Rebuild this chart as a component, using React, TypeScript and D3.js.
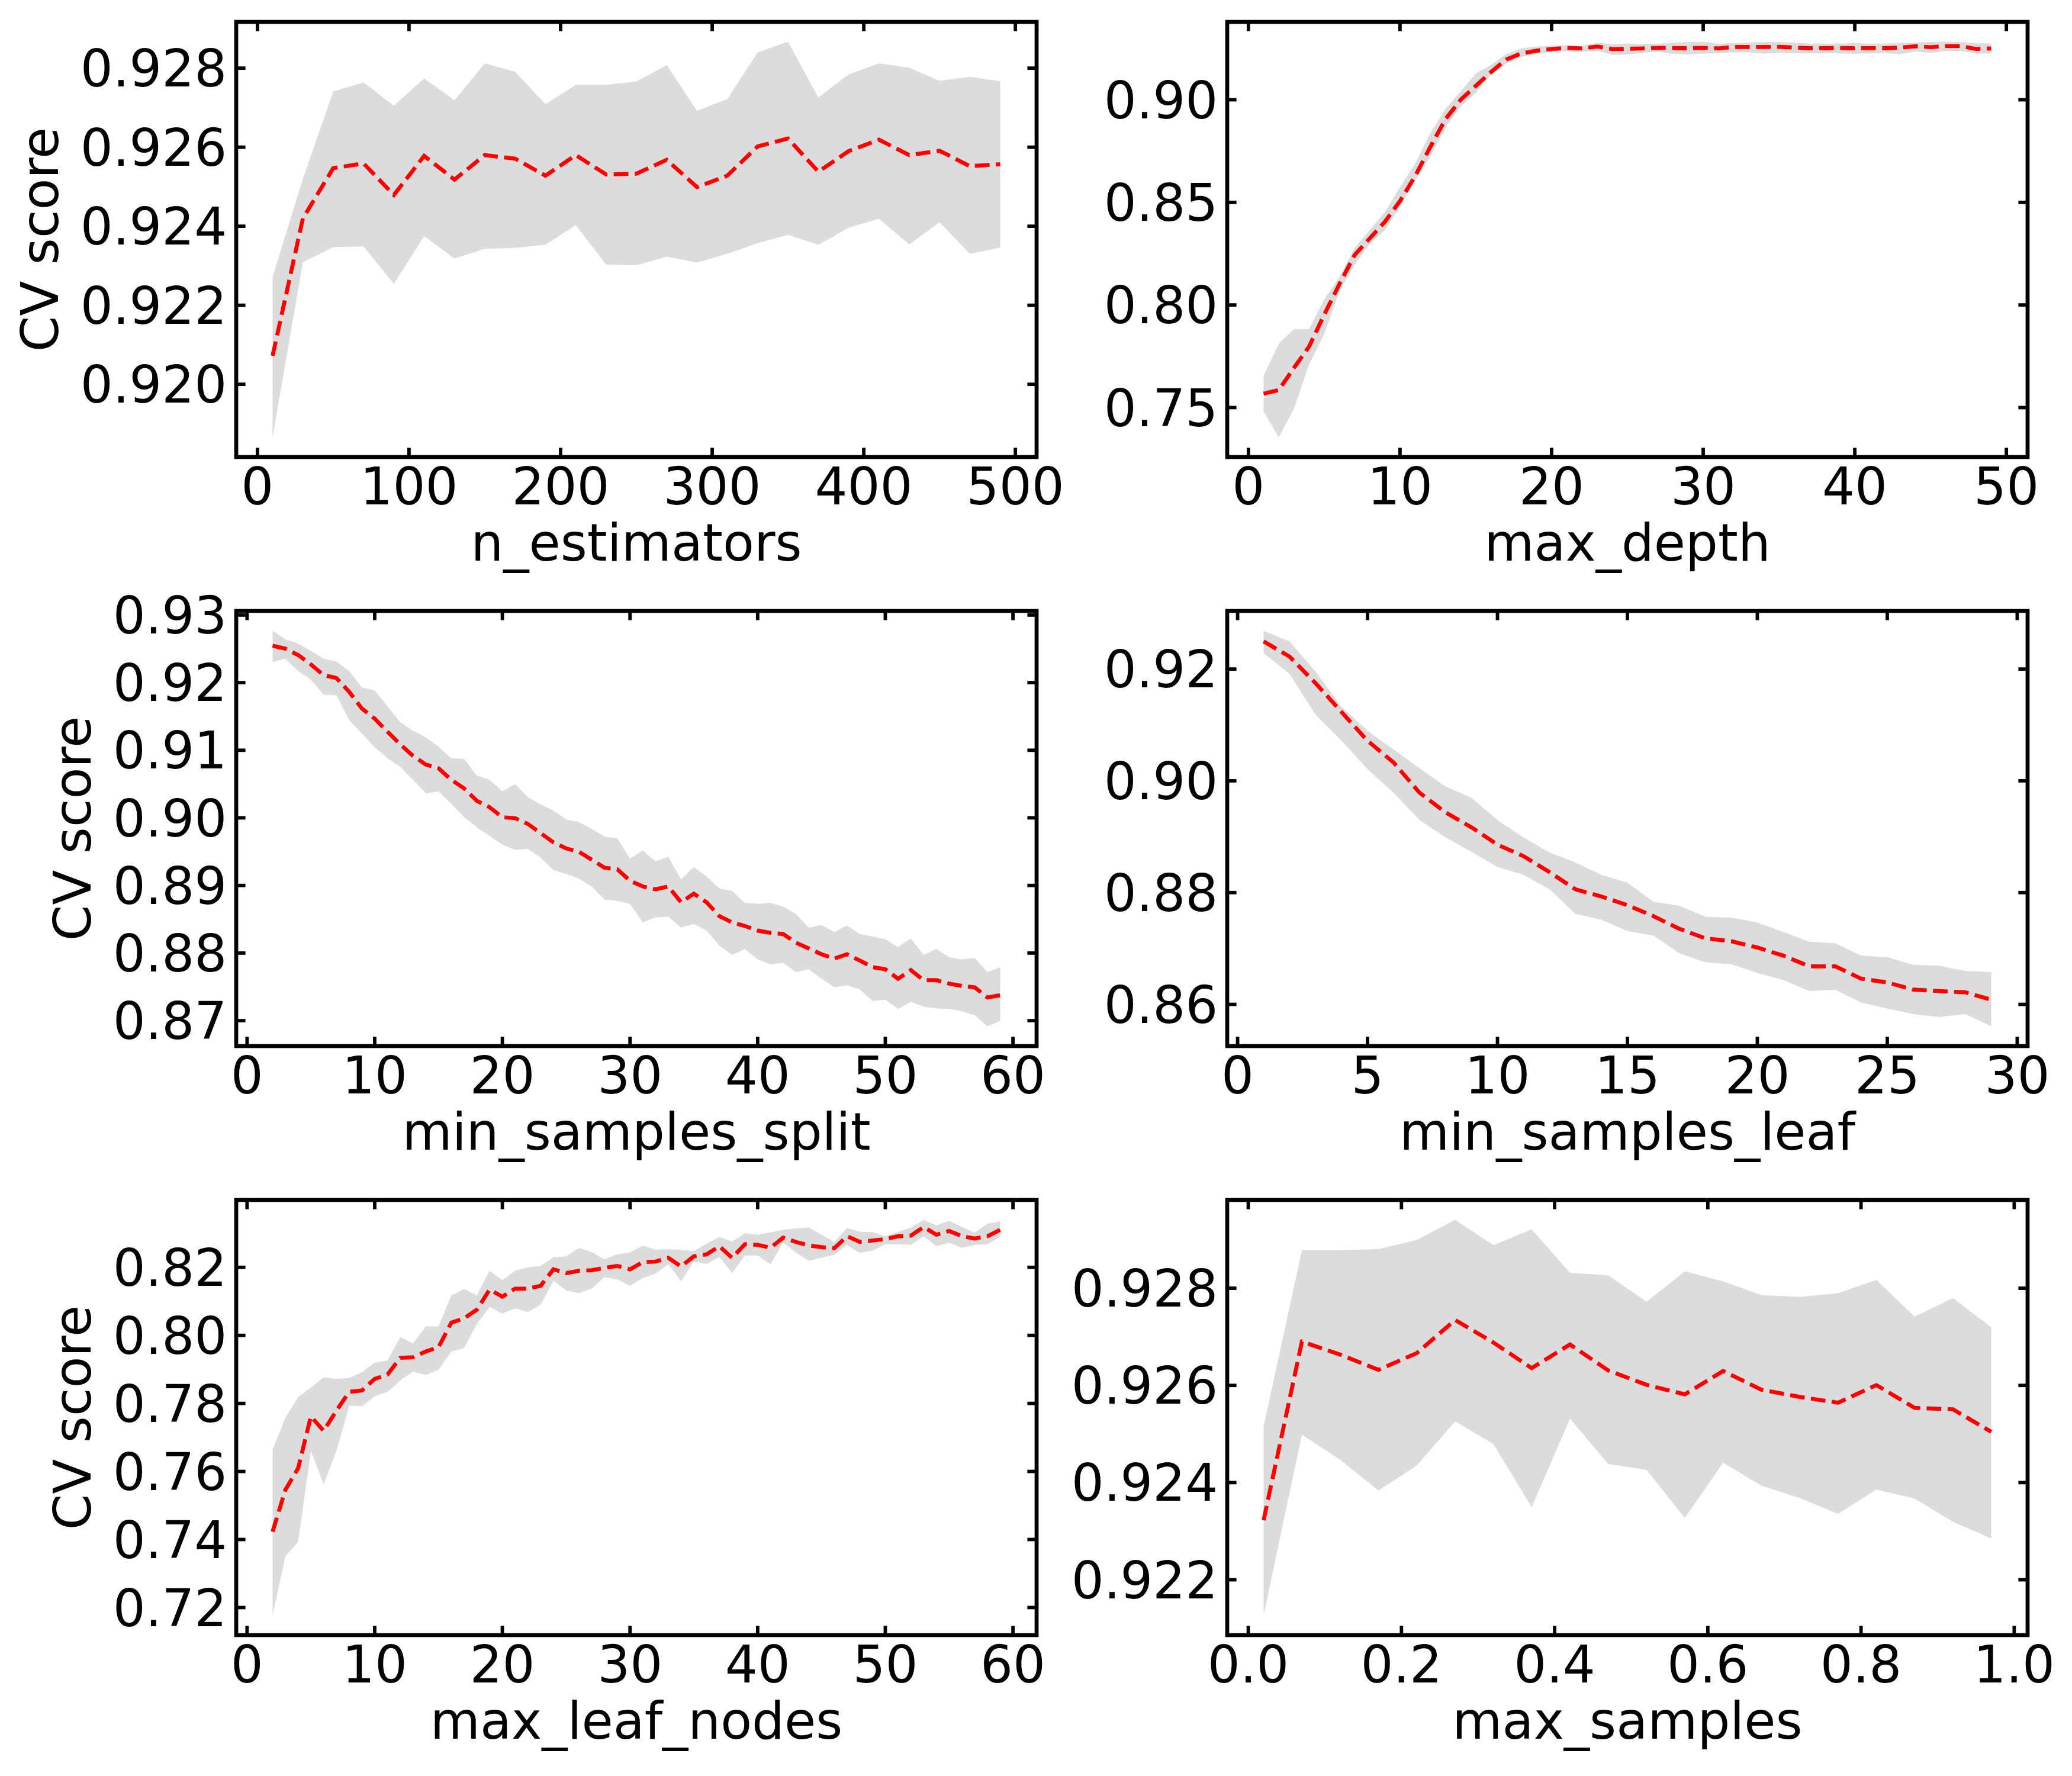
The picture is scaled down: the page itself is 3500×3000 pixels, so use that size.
import React from 'react'
import * as d3 from 'd3'

// n_estimators
const nEstX = [10, 30, 50, 70, 90, 110, 130, 150, 170, 190, 210, 230, 250, 270, 290, 310, 330, 350, 370, 390, 410, 430, 450, 470, 490]
const nEstMean = [0.92072, 0.92420, 0.92547, 0.92559, 0.92479, 0.92578, 0.92518, 0.92580, 0.92571, 0.92528, 0.92580, 0.92531, 0.92533, 0.92568, 0.92499, 0.92528, 0.92602, 0.92622, 0.92538, 0.92590, 0.92619, 0.92580, 0.92591, 0.92552, 0.92557]
const nEstHi = [0.92272, 0.92520, 0.92741, 0.92764, 0.92705, 0.92774, 0.92719, 0.92812, 0.92791, 0.92709, 0.92758, 0.92758, 0.92766, 0.92808, 0.92692, 0.92722, 0.92840, 0.92867, 0.92726, 0.92784, 0.92812, 0.92801, 0.92768, 0.92778, 0.92767]
const nEstLo = [0.91866, 0.92309, 0.92347, 0.92349, 0.92254, 0.92375, 0.92318, 0.92343, 0.92345, 0.92353, 0.92403, 0.92303, 0.92301, 0.92323, 0.92308, 0.92330, 0.92357, 0.92378, 0.92353, 0.92396, 0.92419, 0.92354, 0.92410, 0.92330, 0.92346]

// max_depth
const depthX = [1, 2, 3, 4, 5, 6, 7, 8, 9, 10, 11, 12, 13, 14, 15, 16, 17, 18, 19, 20, 21, 22, 23, 24, 25, 26, 27, 28, 29, 30, 31, 32, 33, 34, 35, 36, 37, 38, 39, 40, 41, 42, 43, 44, 45, 46, 47, 48, 49]
const depthMean = [0.75676, 0.75851, 0.76932, 0.77973, 0.79527, 0.81014, 0.82432, 0.83243, 0.84054, 0.85068, 0.86284, 0.87703, 0.89054, 0.90000, 0.90676, 0.91351, 0.91959, 0.92257, 0.92392, 0.92473, 0.92527, 0.92500, 0.92595, 0.92473, 0.92480,
  0.92503, 0.92532, 0.92522, 0.92513, 0.92532, 0.92503, 0.92570, 0.92570, 0.92570, 0.92580, 0.92541, 0.92513, 0.92513, 0.92522, 0.92513, 0.92513, 0.92513, 0.92541, 0.92609, 0.92561, 0.92618, 0.92618, 0.92474, 0.92503]
const depthHi = [0.76554, 0.78108, 0.78824, 0.78824, 0.80270, 0.81351, 0.82770, 0.83649, 0.84527, 0.85743, 0.86892, 0.88378, 0.89554, 0.90405, 0.91284, 0.91689, 0.92230, 0.92500, 0.92595, 0.92635, 0.92662, 0.92635, 0.92770, 0.92703, 0.92734,
  0.92715, 0.92734, 0.92792, 0.92811, 0.92830, 0.92734, 0.92763, 0.92792, 0.92811, 0.92811, 0.92792, 0.92744, 0.92734, 0.92744, 0.92763, 0.92734, 0.92744, 0.92772, 0.92792, 0.92811, 0.92830, 0.92811, 0.92763, 0.92734]
const depthLo = [0.74797, 0.73554, 0.74932, 0.77095, 0.78581, 0.80676, 0.81959, 0.82973, 0.83649, 0.84797, 0.86081, 0.87230, 0.88649, 0.89662, 0.90338, 0.91216, 0.91757, 0.92095, 0.92230, 0.92338, 0.92365, 0.92338, 0.92392, 0.92185, 0.92200,
  0.92281, 0.92349, 0.92233, 0.92204, 0.92253, 0.92272, 0.92310, 0.92310, 0.92253, 0.92281, 0.92272, 0.92262, 0.92262, 0.92262, 0.92233, 0.92262, 0.92281, 0.92214, 0.92349, 0.92281, 0.92378, 0.92378, 0.92253, 0.92253]

// min_samples_split
const splitX = [2, 3, 4, 5, 6, 7, 8, 9, 10, 11, 12, 13, 14, 15, 16, 17, 18, 19, 20, 21, 22, 23, 24, 25, 26, 27, 28, 29, 30, 31, 32, 33, 34, 35, 36, 37, 38, 39, 40, 41, 42, 43, 44, 45, 46, 47, 48, 49, 50, 51, 52, 53, 54, 55, 56, 57, 58, 59]
const splitMean = [0.92546, 0.92503, 0.92409, 0.92269, 0.92111, 0.92068, 0.91864, 0.91616, 0.91467, 0.91275, 0.91087, 0.90917, 0.90789, 0.90733, 0.90563, 0.90435, 0.90252, 0.90158, 0.90009, 0.89996,
  0.89910, 0.89774, 0.89638, 0.89548, 0.89497, 0.89382, 0.89262, 0.89241, 0.89070, 0.88985, 0.88942, 0.88985, 0.88751, 0.88879, 0.88751, 0.88546, 0.88452, 0.88401, 0.88333, 0.88299,
  0.88281, 0.88153, 0.88068, 0.87983, 0.87919, 0.87983, 0.87889, 0.87791, 0.87761, 0.87620, 0.87748, 0.87599, 0.87599, 0.87548, 0.87514, 0.87493, 0.87343, 0.87377]
const splitHi = [0.92768, 0.92640, 0.92580, 0.92469, 0.92354, 0.92311, 0.92171, 0.91928, 0.91885, 0.91650, 0.91416, 0.91288, 0.91190, 0.91053, 0.90883, 0.90874, 0.90627, 0.90563, 0.90392, 0.90499,
  0.90307, 0.90200, 0.90107, 0.89979, 0.89936, 0.89838, 0.89723, 0.89697, 0.89399, 0.89518, 0.89356, 0.89424, 0.89092, 0.89271, 0.89134, 0.88955, 0.88921, 0.88742, 0.88729, 0.88742,
  0.88687, 0.88580, 0.88375, 0.88418, 0.88311, 0.88409, 0.88281, 0.88247, 0.88205, 0.88090, 0.88217, 0.87974, 0.88060, 0.87940, 0.87906, 0.87927, 0.87719, 0.87791]
const splitLo = [0.92303, 0.92354, 0.92171, 0.92043, 0.91821, 0.91812, 0.91446, 0.91245, 0.91045, 0.90883, 0.90755, 0.90563, 0.90362, 0.90392, 0.90209, 0.90009, 0.89859, 0.89731, 0.89603, 0.89527,
  0.89539, 0.89412, 0.89228, 0.89168, 0.89100, 0.88985, 0.88793, 0.88772, 0.88729, 0.88452, 0.88529, 0.88537, 0.88375, 0.88431, 0.88333, 0.88111, 0.87974, 0.88060, 0.87906, 0.87834,
  0.87855, 0.87719, 0.87761, 0.87620, 0.87493, 0.87522, 0.87463, 0.87292, 0.87309, 0.87173, 0.87279, 0.87207, 0.87181, 0.87173, 0.87139, 0.87079, 0.86917, 0.86994]

// min_samples_leaf
const leafX = [1, 2, 3, 4, 5, 6, 7, 8, 9, 10, 11, 12, 13, 14, 15, 16, 17, 18, 19, 20, 21, 22, 23, 24, 25, 26, 27, 28, 29]
const leafMean = [0.92495, 0.92222, 0.91747, 0.91231, 0.90716, 0.90329, 0.89787, 0.89436, 0.89168, 0.88858, 0.88652, 0.88368, 0.88059, 0.87930, 0.87775,
  0.87579, 0.87352, 0.87182, 0.87130, 0.87017, 0.86872, 0.86681, 0.86681, 0.86460, 0.86393, 0.86264, 0.86238, 0.86217, 0.86083]
const leafHi = [0.92686, 0.92495, 0.91954, 0.91324, 0.90896, 0.90561, 0.90225, 0.89900, 0.89694, 0.89297, 0.88987, 0.88719, 0.88539, 0.88317, 0.88177,
  0.87837, 0.87765, 0.87569, 0.87553, 0.87466, 0.87295, 0.87120, 0.87094, 0.86872, 0.86847, 0.86707, 0.86692, 0.86599, 0.86578]
const leafLo = [0.92289, 0.91912, 0.91180, 0.90716, 0.90210, 0.89787, 0.89297, 0.88987, 0.88729, 0.88461, 0.88317, 0.88059, 0.87620, 0.87517, 0.87311,
  0.87233, 0.86914, 0.86754, 0.86718, 0.86563, 0.86434, 0.86238, 0.86264, 0.86031, 0.85928, 0.85825, 0.85773, 0.85825, 0.85608]

// max_leaf_nodes
const nodesX = splitX
const nodesMean = [0.74229, 0.75458, 0.76093, 0.77619, 0.77195, 0.77788, 0.78339, 0.78381, 0.78720, 0.78847, 0.79339, 0.79356, 0.79525, 0.79653, 0.80373, 0.80500, 0.80754, 0.81347, 0.81136, 0.81373,
  0.81373, 0.81458, 0.81941, 0.81831, 0.81898, 0.81915, 0.81983, 0.82042, 0.81941, 0.82153, 0.82169, 0.82280, 0.82025, 0.82322, 0.82381, 0.82619, 0.82280, 0.82678, 0.82661, 0.82576,
  0.82873, 0.82746, 0.82644, 0.82593, 0.82559, 0.82915, 0.82746, 0.82788, 0.82831, 0.82915, 0.82932, 0.83186, 0.82958, 0.83068, 0.82915, 0.82847, 0.82915, 0.83102]
const nodesHi = [0.76644, 0.77576, 0.78186, 0.78466, 0.78763, 0.78720, 0.78746, 0.78915, 0.79203, 0.79254, 0.79949, 0.79763, 0.80263, 0.80263, 0.81178, 0.81364, 0.81178, 0.81898, 0.81627, 0.81898,
  0.82000, 0.82042, 0.82297, 0.82322, 0.82576, 0.82449, 0.82237, 0.82381, 0.82441, 0.82644, 0.82517, 0.82534, 0.82508, 0.82475, 0.82695, 0.82890, 0.82763, 0.83000, 0.82958, 0.83025,
  0.83102, 0.83144, 0.83169, 0.82958, 0.82746, 0.83153, 0.83042, 0.83034, 0.82915, 0.83042, 0.83169, 0.83398, 0.83229, 0.83364, 0.83186, 0.83017, 0.83280, 0.83356]
const nodesLo = [0.71771, 0.73508, 0.73932, 0.76602, 0.75627, 0.76602, 0.77932, 0.77915, 0.78212, 0.78339, 0.78678, 0.78932, 0.78831, 0.78992, 0.79525, 0.79627, 0.80331, 0.80839, 0.80644, 0.80797,
  0.80686, 0.80898, 0.81602, 0.81322, 0.81237, 0.81373, 0.81712, 0.81644, 0.81458, 0.81686, 0.81814, 0.82093, 0.81593, 0.82169, 0.82102, 0.82305, 0.81831, 0.82347, 0.82347, 0.82093,
  0.82729, 0.82432, 0.82195, 0.82280, 0.82364, 0.82661, 0.82424, 0.82492, 0.82678, 0.82678, 0.82661, 0.82915, 0.82619, 0.82720, 0.82576, 0.82661, 0.82678, 0.82898]

// max_samples
const samplesX = [0.02, 0.07, 0.12, 0.17, 0.22, 0.27, 0.32, 0.37, 0.42, 0.47, 0.52, 0.57, 0.62, 0.67, 0.72, 0.77, 0.82, 0.87, 0.92, 0.97]
const samplesMean = [0.923225, 0.926901, 0.926634, 0.926320, 0.926664, 0.927346, 0.926883, 0.926356, 0.926842, 0.926308, 0.926012, 0.925816, 0.926296, 0.925911, 0.925763, 0.925644, 0.926006, 0.925538, 0.925508, 0.925045]
const samplesHi = [0.925152, 0.928781, 0.928781, 0.928805, 0.928994, 0.929409, 0.928888, 0.929214, 0.928318, 0.928265, 0.927720, 0.928348, 0.928141, 0.927856, 0.927820, 0.927897, 0.928170, 0.927417, 0.927797, 0.927198]
const samplesLo = [0.921268, 0.924986, 0.924470, 0.923836, 0.924352, 0.925259, 0.924796, 0.923492, 0.925318, 0.924381, 0.924263, 0.923272, 0.924411, 0.923937, 0.923682, 0.923355, 0.923859, 0.923670, 0.923195, 0.922851]

// ticks
const nEstTicks = [0, 100, 200, 300, 400, 500]
const nEstYTicks = [0.920, 0.922, 0.924, 0.926, 0.928]
const depthTicks = [0, 10, 20, 30, 40, 50]
const depthYTicks = [0.75, 0.80, 0.85, 0.90]
const splitTicks = [0, 10, 20, 30, 40, 50, 60]
const splitYTicks = [0.87, 0.88, 0.89, 0.90, 0.91, 0.92, 0.93]
const leafTicks = [0, 5, 10, 15, 20, 25, 30]
const leafYTicks = [0.86, 0.88, 0.90, 0.92]
const nodesTicks = [0, 10, 20, 30, 40, 50, 60]
const nodesYTicks = [0.72, 0.74, 0.76, 0.78, 0.80, 0.82]
const samplesTicks = [0.0, 0.2, 0.4, 0.6, 0.8, 1.0]
const samplesYTicks = [0.922, 0.924, 0.926, 0.928]

const FONT = 86.5
const FAMILY = '"DejaVu Sans", sans-serif'
const TICK = 15.6
const LW = 6.7
const W = 1352
const H = 735
const LEFTS = [399, 2073]
const TOPS = [37, 1032, 2027]

// matplotlib-like 5% margins around the data
const padded = (vals: number[]) => {
  const [a, b] = d3.extent(vals) as [number, number]
  const m = (b - a) * 0.05
  return [a - m, b + m]
}

const textWidth = (s: string) =>
  Array.from(s).reduce((acc, c) => acc + (c === '.' ? 0.318 : 0.636), 0) * FONT

type PanelProps = {
  left: number
  top: number
  xs: number[]
  mean: number[]
  lo: number[]
  hi: number[]
  xTicks: number[]
  yTicks: number[]
  xDigits: number
  yDigits: number
  xLabel: string
  yLabel?: string
}

const Panel = ({ left, top, xs, mean, lo, hi, xTicks, yTicks, xDigits, yDigits, xLabel, yLabel }: PanelProps) => {
  const x = d3.scaleLinear().domain(padded(xs)).range([left, left + W])
  const y = d3.scaleLinear().domain(padded([...mean, ...lo, ...hi])).range([top + H, top])
  const bottom = top + H
  const right = left + W

  const area = d3.area<number>()
    .x((_, i) => x(xs[i]))
    .y0((_, i) => y(lo[i]))
    .y1((_, i) => y(hi[i]))
  const line = d3.line<number>()
    .x((_, i) => x(xs[i]))
    .y(d => y(d))

  const yLabels = yTicks.map(t => t.toFixed(yDigits))
  const labelX = left - 15.6 - d3.max(yLabels, textWidth)! - 38

  return (
    <g fontFamily={FAMILY} fontSize={FONT}>
      <path d={area(mean)!} fill="#dcdcdc" stroke="none" />
      <path d={line(mean)!} fill="none" stroke="#ff0000" strokeWidth={LW} strokeDasharray="24.8 10.7" />
      {xTicks.map(t => (
        <g key={'x' + t}>
          <line x1={x(t)} x2={x(t)} y1={bottom} y2={bottom - TICK} stroke="#000" strokeWidth={5.8} />
          <line x1={x(t)} x2={x(t)} y1={top} y2={top + TICK} stroke="#000" strokeWidth={5.8} />
          <text x={x(t)} y={bottom + 80} textAnchor="middle">{t.toFixed(xDigits)}</text>
        </g>
      ))}
      {yTicks.map((t, i) => (
        <g key={'y' + t}>
          <line x1={left} x2={left + TICK} y1={y(t)} y2={y(t)} stroke="#000" strokeWidth={5.8} />
          <line x1={right} x2={right - TICK} y1={y(t)} y2={y(t)} stroke="#000" strokeWidth={5.8} />
          <text x={left - 15.6} y={y(t)} dy="0.36em" textAnchor="end">{yLabels[i]}</text>
        </g>
      ))}
      <rect x={left} y={top} width={W} height={H} fill="none" stroke="#000" strokeWidth={LW} />
      <text x={left + W / 2} y={bottom + 175} textAnchor="middle">{xLabel}</text>
      {yLabel && (
        <text transform={`translate(${labelX},${top + H / 2}) rotate(-90)`} textAnchor="middle">{yLabel}</text>
      )}
    </g>
  )
}

const App = () => (
  <svg width={3500} height={3000} viewBox="0 0 3500 3000" style={{ position: 'absolute', left: 0, top: 0, background: '#fff' }}>
    <rect width={3500} height={3000} fill="#fff" />
    <Panel left={LEFTS[0]} top={TOPS[0]} xs={nEstX} mean={nEstMean} lo={nEstLo} hi={nEstHi}
      xTicks={nEstTicks} yTicks={nEstYTicks} xDigits={0} yDigits={3} xLabel="n_estimators" yLabel="CV score" />
    <Panel left={LEFTS[1]} top={TOPS[0]} xs={depthX} mean={depthMean} lo={depthLo} hi={depthHi}
      xTicks={depthTicks} yTicks={depthYTicks} xDigits={0} yDigits={2} xLabel="max_depth" />
    <Panel left={LEFTS[0]} top={TOPS[1]} xs={splitX} mean={splitMean} lo={splitLo} hi={splitHi}
      xTicks={splitTicks} yTicks={splitYTicks} xDigits={0} yDigits={2} xLabel="min_samples_split" yLabel="CV score" />
    <Panel left={LEFTS[1]} top={TOPS[1]} xs={leafX} mean={leafMean} lo={leafLo} hi={leafHi}
      xTicks={leafTicks} yTicks={leafYTicks} xDigits={0} yDigits={2} xLabel="min_samples_leaf" />
    <Panel left={LEFTS[0]} top={TOPS[2]} xs={nodesX} mean={nodesMean} lo={nodesLo} hi={nodesHi}
      xTicks={nodesTicks} yTicks={nodesYTicks} xDigits={0} yDigits={2} xLabel="max_leaf_nodes" yLabel="CV score" />
    <Panel left={LEFTS[1]} top={TOPS[2]} xs={samplesX} mean={samplesMean} lo={samplesLo} hi={samplesHi}
      xTicks={samplesTicks} yTicks={samplesYTicks} xDigits={1} yDigits={3} xLabel="max_samples" />
  </svg>
)

export default App
